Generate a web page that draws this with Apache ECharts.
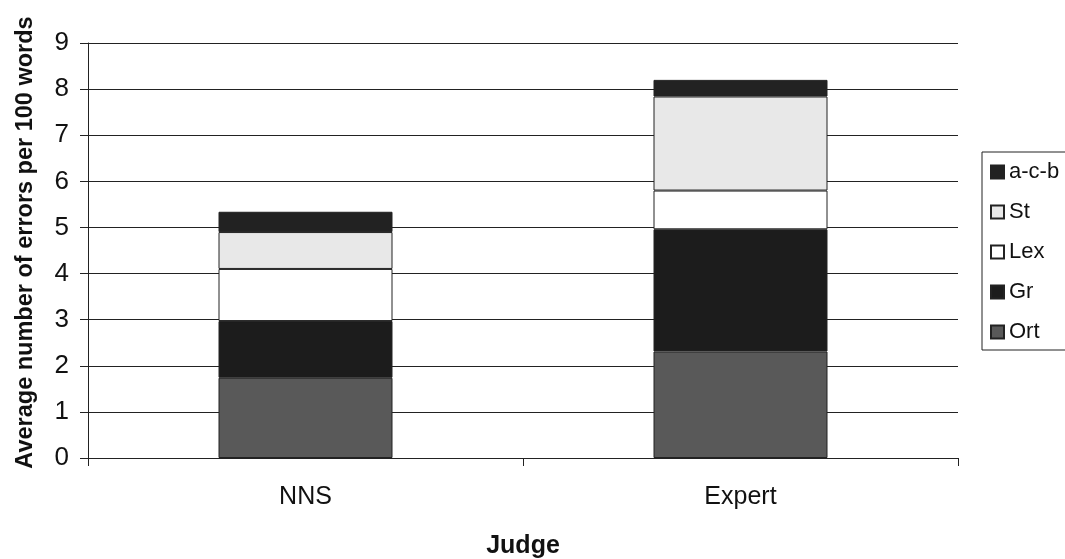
<!DOCTYPE html>
<html>
<head>
<meta charset="utf-8">
<script src="https://cdn.jsdelivr.net/npm/echarts@6/dist/echarts.min.js"></script>
<style>
html,body{margin:0;padding:0;background:#fff;}
#c{width:1065px;height:559px;}
</style>
</head>
<body>
<div id="c"></div>
<script>
var categories = ["NNS", "Expert"];
var ort = [1.74, 2.31];
var gr = [1.23, 2.65];
var lex = [1.13, 0.84];
var st = [0.80, 2.04];
var acb = [0.44, 0.36];
var yTicks = [0, 1, 2, 3, 4, 5, 6, 7, 8, 9];

var font = '"Liberation Sans", Arial, sans-serif';
var chart = echarts.init(document.getElementById('c'));
function bar(name, data, color) {
  return {
    name: name, type: 'bar', stack: 'total', data: data, barWidth: '40%',
    itemStyle: { color: color, borderColor: '#222', borderWidth: 1 }
  };
}
chart.setOption({
  animation: false,
  backgroundColor: '#fff',
  grid: { left: 88, right: 107, top: 43, bottom: 101, containLabel: false, outerBoundsMode: 'none' },
  legend: {
    orient: 'vertical', left: 982, top: 152,
    data: ['a-c-b', 'St', 'Lex', 'Gr', 'Ort'],
    itemWidth: 13, itemHeight: 13, itemGap: 18,
    padding: [9, 30, 7, 8],
    borderColor: '#222', borderWidth: 1,
    textStyle: { fontSize: 22, fontFamily: font, color: '#111' },
    icon: 'rect'
  },
  xAxis: {
    type: 'category', data: categories,
    name: 'Judge', nameLocation: 'middle', nameGap: 76,
    nameTextStyle: { fontSize: 25, fontWeight: 'bold', fontFamily: font, color: '#111' },
    axisLine: { lineStyle: { color: '#222', width: 1 } },
    axisTick: { show: true, alignWithLabel: false, length: 8, lineStyle: { color: '#222' } },
    axisLabel: { fontSize: 25, fontFamily: font, color: '#111', margin: 27 }
  },
  yAxis: {
    type: 'value', min: yTicks[0], max: yTicks[yTicks.length - 1], interval: 1,
    name: 'Average number of errors per 100 words', nameLocation: 'middle', nameGap: 50,
    nameTextStyle: { fontSize: 23.5, fontWeight: 'bold', fontFamily: font, color: '#111', padding: [0, 0, 0, 16] },
    axisLine: { show: true, lineStyle: { color: '#222', width: 1 } },
    axisTick: { show: true, length: 8, lineStyle: { color: '#222' } },
    splitLine: { show: true, lineStyle: { color: '#222', width: 1 } },
    axisLabel: { fontSize: 26, fontFamily: font, color: '#111', margin: 19 }
  },
  series: [
    bar('Ort', ort, '#595959'),
    bar('Gr', gr, '#1c1c1c'),
    bar('Lex', lex, '#ffffff'),
    bar('St', st, '#e8e8e8'),
    bar('a-c-b', acb, '#222222')
  ]
});
</script>
</body>
</html>
